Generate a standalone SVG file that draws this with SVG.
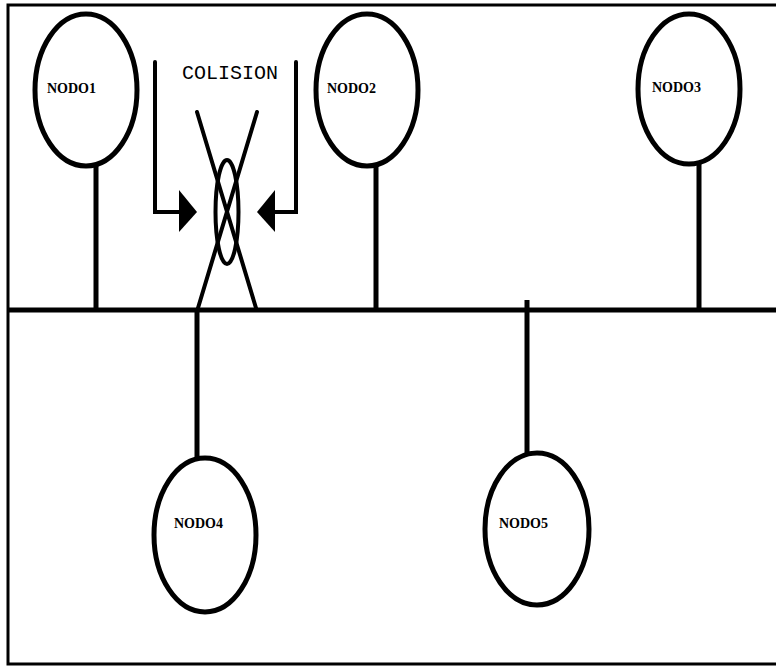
<svg xmlns="http://www.w3.org/2000/svg" width="776" height="668" viewBox="0 0 776 668">
<style>
.frame{fill:none;stroke:#000;stroke-width:3}
.node{fill:#fff;stroke:#000;stroke-width:5}
.wire{stroke:#000;stroke-width:5;fill:none;stroke-linecap:butt}
.thin{stroke:#000;stroke-width:4;fill:none;stroke-linecap:round;stroke-linejoin:miter}
.lbl{font-family:"Liberation Serif","Times New Roman",serif;font-weight:bold;font-size:14px;fill:#000}
.col{font-family:"Liberation Mono","Courier New",monospace;font-size:20px;fill:#000}
</style>
<rect width="776" height="668" fill="#fff"/>
<path class="frame" d="M776,5 H8 V664 H776"/>
<g id="connectors">
<line class="wire" x1="8" y1="310" x2="776" y2="310"/>
<line class="wire" x1="96" y1="165" x2="96" y2="310"/>
<line class="wire" x1="376" y1="165" x2="376" y2="310"/>
<line class="wire" x1="699" y1="163" x2="699" y2="310"/>
<line class="wire" x1="197" y1="310" x2="197" y2="458"/>
<line class="wire" x1="527" y1="300" x2="527" y2="453"/>
</g>
<g id="collision">
<line class="thin" x1="197" y1="112" x2="256" y2="308"/>
<line class="thin" x1="257" y1="112" x2="198" y2="308"/>
<ellipse cx="227" cy="212" rx="11.5" ry="52" fill="none" stroke="#000" stroke-width="4"/>
<polyline class="thin" points="155,62 155,212 182,212"/>
<polygon points="179,190 197,212 179,232" fill="#000"/>
<polyline class="thin" points="296,62 296,212 272,212"/>
<polygon points="275,190 257,212 275,232" fill="#000"/>
<text class="col" x="230" y="79" text-anchor="middle">COLISION</text>
</g>
<g id="nodo1">
<ellipse class="node" cx="86" cy="90" rx="51" ry="76"/>
<text class="lbl" x="47" y="93">NODO1</text>
</g>
<g id="nodo2">
<ellipse class="node" cx="367" cy="90" rx="51" ry="76"/>
<text class="lbl" x="327" y="93">NODO2</text>
</g>
<g id="nodo3">
<ellipse class="node" cx="689" cy="89" rx="51" ry="75"/>
<text class="lbl" x="652" y="92">NODO3</text>
</g>
<g id="nodo4">
<ellipse class="node" cx="205" cy="535" rx="51" ry="77"/>
<text class="lbl" x="174" y="528">NODO4</text>
</g>
<g id="nodo5">
<ellipse class="node" cx="537" cy="529" rx="52" ry="76"/>
<text class="lbl" x="499" y="528">NODO5</text>
</g>
</svg>
